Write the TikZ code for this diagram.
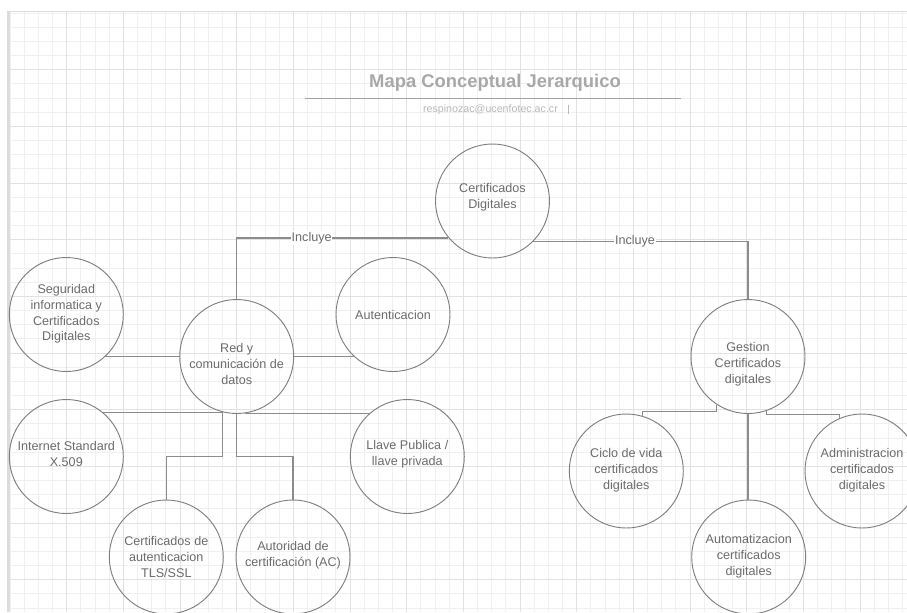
\documentclass[tikz,border=0pt]{standalone}
\usepackage{fontspec}
\setmainfont{Liberation Sans}
\usetikzlibrary{calc}

\definecolor{gridminor}{HTML}{F0F0F0}
\definecolor{gridmajor}{HTML}{E2E2E2}
\definecolor{framegray}{HTML}{DCDCDC}
\definecolor{edgegray}{HTML}{7F7F7F}
\definecolor{linkgray}{HTML}{8C8C8C}
\definecolor{textgray}{HTML}{6B6B6B}
\definecolor{titlegray}{HTML}{A8A8A8}
\definecolor{rulegray}{HTML}{A3A3A3}
\definecolor{mailgray}{HTML}{B8B8B8}

\begin{document}
\begin{tikzpicture}[x=0.75pt,y=-0.75pt,
  concept/.style={circle,draw=edgegray,line width=0.7pt,minimum size=85.5pt,inner sep=0pt},
  ctext/.style={text=textgray,align=center,inner sep=0pt,
    font=\fontsize{9.45pt}{11.85pt}\selectfont},
  link/.style={draw=linkgray,line width=0.9pt},
  linklabel/.style={ctext,fill=white,inner sep=0.6pt}]

\useasboundingbox (0,0) rectangle (907,612);
\clip (0,0) rectangle (907,612);

% background grid
\foreach \i in {0,...,63}
  \draw[gridminor,line width=0.75pt] ({10+14.1667*\i},11) -- ({10+14.1667*\i},612);
\foreach \j in {0,...,42}
  \draw[gridminor,line width=0.75pt] (10,{13+14.1667*\j}) -- (907,{13+14.1667*\j});
\foreach \i in {1,...,15}
  \draw[gridmajor,line width=0.75pt] ({10+56.667*\i},11) -- ({10+56.667*\i},612);
\foreach \j in {1,...,10}
  \draw[gridmajor,line width=0.75pt] (10,{13+56.667*\j}) -- (907,{13+56.667*\j});

% page frame
\draw[framegray,line width=0.75pt] (7,11) -- (907,11);
\fill[framegray] (7,11) rectangle (10,612);

% heading
\node[font=\fontsize{13.8pt}{16pt}\selectfont\bfseries,text=titlegray,inner sep=0pt]
  (title) at (495,82.7) {Mapa Conceptual Jerarquico};
\draw[rulegray,line width=1.4pt] (305,98.5) -- (681,98.5);
\node[font=\fontsize{8pt}{10pt}\selectfont,text=mailgray,inner sep=0pt]
  (mail) at (490.5,109.5) {respinozac@ucenfotec.ac.cr};
\draw[mailgray,line width=0.6pt] (568.3,105) -- (568.3,114);

% concept circles
\node[concept] (cert)  at (492.5,201)   {};
\node[concept] (seg)   at (66.3,314.5)  {};
\node[concept] (red)   at (236.7,356.5) {};
\node[concept] (aut)   at (393,314.5)   {};
\node[concept] (gest)  at (748,356.5)   {};
\node[concept] (inet)  at (66.3,456.5)  {};
\node[concept] (llave) at (407.3,456.5) {};
\node[concept] (tls)   at (166.3,557)   {};
\node[concept] (ac)    at (293,557)     {};
\node[concept] (ciclo) at (626.3,471)   {};
\node[concept] (auto)  at (748.7,557)   {};
\node[concept] (admin) at (862,471)     {};

% concept texts
\node[ctext] (cert-t)  at (492.5,197)   {Certificados\\Digitales};
\node[ctext] (seg-t)   at (66.3,314)    {Seguridad\\informatica y\\Certificados\\Digitales};
\node[ctext] (red-t)   at (236.7,364)   {Red y\\comunicación de\\datos};
\node[ctext] (aut-t)   at (393,315)     {Autenticacion};
\node[ctext] (gest-t)  at (748,364)     {Gestion\\Certificados\\digitales};
\node[ctext] (inet-t)  at (66.3,454)    {Internet Standard\\X.509};
\node[ctext] (llave-t) at (407.3,454)   {Llave Publica /\\llave privada};
\node[ctext] (tls-t)   at (166.3,557)   {Certificados de\\autenticacion\\TLS/SSL};
\node[ctext] (ac-t)    at (293,555.3)   {Autoridad de\\certificación (AC)};
\node[ctext] (ciclo-t) at (626.3,470.3) {Ciclo de vida\\certificados\\digitales};
\node[ctext] (auto-t)  at (748.7,556)   {Automatizacion\\certificados\\digitales};
\node[ctext] (admin-t) at (862,470.3)   {Administracion\\certificados\\digitales};

% bus level for the lower branches of "Red y comunicación de datos"
\coordinate (busL) at (200,456.7);

% connectors
\draw[link] (cert.220) -| node[linklabel,pos=0.323] (inc1) {Incluye} (red.north);
\draw[link] (cert.-45) -| node[linklabel,pos=0.237] (inc2) {Incluye} (gest.north);

\draw[link] (seg.-47) -- (seg.-47 -| red.west);
\draw[link] (red.east) -- (red.east -| aut.-133);
\draw[link] (inet.50) -- (inet.50 -| red.-104);
\draw[link] (red.-82) -- (red.-82 -| llave.130);
\draw[link] (red.-104) -- (red.-104 |- busL) -| (tls.north);
\draw[link] (red.south) -- (red.south |- busL) -| (ac.north);

\draw[link] (gest.south) -- (gest.south |- auto.north);
\draw[link] (gest.-123) -- ++(0,6.5) -| (ciclo.74);
\draw[link] (gest.-71) -- ++(0,3.5) -| (admin.113);

\end{tikzpicture}
\end{document}
